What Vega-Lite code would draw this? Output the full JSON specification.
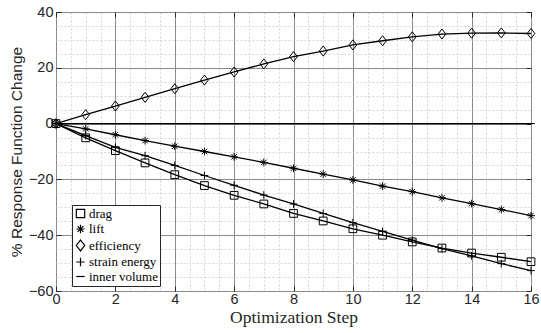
{
  "$schema": "https://vega.github.io/schema/vega-lite/v6.json",
  "width": 475,
  "height": 279,
  "autosize": "none",
  "padding": {"left": 56, "top": 12, "right": 10, "bottom": 42},
  "background": "white",
  "config": {
    "view": {"stroke": "#262626", "strokeWidth": 1},
    "axis": {"labelFont": "Liberation Sans", "labelFontSize": 14.5, "labelColor": "#262626", "titleColor": "#262626", "domain": false}
  },
  "data": {"values": [
    {"step":0,"series":"drag","value":0},{"step":1,"series":"drag","value":-5.1},{"step":2,"series":"drag","value":-9.7},{"step":3,"series":"drag","value":-14.1},{"step":4,"series":"drag","value":-18.3},{"step":5,"series":"drag","value":-22.2},{"step":6,"series":"drag","value":-25.7},{"step":7,"series":"drag","value":-28.8},{"step":8,"series":"drag","value":-32.2},{"step":9,"series":"drag","value":-34.9},{"step":10,"series":"drag","value":-37.7},{"step":11,"series":"drag","value":-40.0},{"step":12,"series":"drag","value":-42.4},{"step":13,"series":"drag","value":-44.6},{"step":14,"series":"drag","value":-46.4},{"step":15,"series":"drag","value":-47.9},{"step":16,"series":"drag","value":-49.5},
    {"step":0,"series":"lift","value":0},{"step":1,"series":"lift","value":-1.9},{"step":2,"series":"lift","value":-4.0},{"step":3,"series":"lift","value":-6.1},{"step":4,"series":"lift","value":-8.1},{"step":5,"series":"lift","value":-10.0},{"step":6,"series":"lift","value":-11.9},{"step":7,"series":"lift","value":-13.9},{"step":8,"series":"lift","value":-16.0},{"step":9,"series":"lift","value":-18.1},{"step":10,"series":"lift","value":-20.2},{"step":11,"series":"lift","value":-22.4},{"step":12,"series":"lift","value":-24.4},{"step":13,"series":"lift","value":-26.6},{"step":14,"series":"lift","value":-28.7},{"step":15,"series":"lift","value":-30.8},{"step":16,"series":"lift","value":-33.0},
    {"step":0,"series":"efficiency","value":0},{"step":1,"series":"efficiency","value":3.2},{"step":2,"series":"efficiency","value":6.3},{"step":3,"series":"efficiency","value":9.4},{"step":4,"series":"efficiency","value":12.5},{"step":5,"series":"efficiency","value":15.6},{"step":6,"series":"efficiency","value":18.5},{"step":7,"series":"efficiency","value":21.4},{"step":8,"series":"efficiency","value":24.0},{"step":9,"series":"efficiency","value":26.0},{"step":10,"series":"efficiency","value":28.2},{"step":11,"series":"efficiency","value":29.7},{"step":12,"series":"efficiency","value":31.1},{"step":13,"series":"efficiency","value":32.1},{"step":14,"series":"efficiency","value":32.4},{"step":15,"series":"efficiency","value":32.5},{"step":16,"series":"efficiency","value":32.3},
    {"step":0,"series":"strain energy","value":0},{"step":1,"series":"strain energy","value":-4.3},{"step":2,"series":"strain energy","value":-8.5},{"step":3,"series":"strain energy","value":-11.5},{"step":4,"series":"strain energy","value":-15.0},{"step":5,"series":"strain energy","value":-18.6},{"step":6,"series":"strain energy","value":-22.1},{"step":7,"series":"strain energy","value":-25.6},{"step":8,"series":"strain energy","value":-28.8},{"step":9,"series":"strain energy","value":-32.2},{"step":10,"series":"strain energy","value":-35.5},{"step":11,"series":"strain energy","value":-38.6},{"step":12,"series":"strain energy","value":-41.8},{"step":13,"series":"strain energy","value":-44.8},{"step":14,"series":"strain energy","value":-47.4},{"step":15,"series":"strain energy","value":-50.2},{"step":16,"series":"strain energy","value":-52.7},
    {"step":0,"series":"inner volume","value":0},{"step":1,"series":"inner volume","value":0},{"step":2,"series":"inner volume","value":0},{"step":3,"series":"inner volume","value":0},{"step":4,"series":"inner volume","value":0},{"step":5,"series":"inner volume","value":0},{"step":6,"series":"inner volume","value":0},{"step":7,"series":"inner volume","value":0},{"step":8,"series":"inner volume","value":0},{"step":9,"series":"inner volume","value":0},{"step":10,"series":"inner volume","value":0},{"step":11,"series":"inner volume","value":0},{"step":12,"series":"inner volume","value":0},{"step":13,"series":"inner volume","value":0},{"step":14,"series":"inner volume","value":0},{"step":15,"series":"inner volume","value":0},{"step":16,"series":"inner volume","value":0}
  ]},
  "layer": [
    {
      "mark": {"type": "line", "color": "black", "strokeWidth": 1.3},
      "encoding": {
        "x": {"field": "step", "type": "quantitative", "scale": {"domain": [0, 16], "nice": false},
          "axis": {"orient": "top", "values": [0,2,4,6,8,10,12,14,16], "labels": false, "grid": false, "ticks": true, "tickSize": -5, "tickColor": "#262626", "title": null}},
        "y": {"field": "value", "type": "quantitative", "scale": {"domain": [-60, 40], "nice": false},
          "axis": {"orient": "right", "values": [-60,-40,-20,0,20,40], "labels": false, "grid": false, "ticks": true, "tickSize": -5, "tickColor": "#262626", "title": null}},
        "detail": {"field": "series"}
      }
    },
    {
      "mark": {"type": "point", "filled": false, "stroke": "black", "strokeWidth": 1, "size": 60, "opacity": 1},
      "encoding": {
        "x": {"field": "step", "type": "quantitative", "scale": {"domain": [0, 16], "nice": false},
          "axis": {"orient": "bottom",
            "values": [0,0.5,1,1.5,2,2.5,3,3.5,4,4.5,5,5.5,6,6.5,7,7.5,8,8.5,9,9.5,10,10.5,11,11.5,12,12.5,13,13.5,14,14.5,15,15.5,16],
            "labelExpr": "datum.value % 2 === 0 ? format(datum.value, 'd') : ''",
            "labelOverlap": false, "labelPadding": 6, "labelFlush": false,
            "grid": true,
            "gridColor": {"condition": {"test": "datum.value % 2 === 0", "value": "#8a8a8a"}, "value": "#d6d6d6"},
            "gridDash": {"condition": {"test": "datum.value % 2 === 0", "value": []}, "value": [2, 2]},
            "gridWidth": 1,
            "ticks": true, "tickSize": -5, "tickColor": "#262626",
            "tickOpacity": {"condition": {"test": "datum.value % 2 === 0", "value": 1}, "value": 0},
            "title": "Optimization Step", "titleFont": "Liberation Serif", "titleFontSize": 17.5, "titleFontWeight": "normal", "titlePadding": 3}},
        "y": {"field": "value", "type": "quantitative", "scale": {"domain": [-60, 40], "nice": false},
          "axis": {"orient": "left",
            "values": [-60,-55,-50,-45,-40,-35,-30,-25,-20,-15,-10,-5,0,5,10,15,20,25,30,35,40],
            "labelExpr": "datum.value % 20 === 0 ? format(datum.value, 'd') : ''",
            "labelOverlap": false, "labelPadding": 8, "labelFlush": false,
            "grid": true,
            "gridColor": {"condition": {"test": "datum.value % 20 === 0", "value": "#8a8a8a"}, "value": "#d6d6d6"},
            "gridDash": {"condition": {"test": "datum.value % 20 === 0", "value": []}, "value": [2, 2]},
            "gridWidth": 1,
            "ticks": true, "tickSize": -5, "tickColor": "#262626",
            "tickOpacity": {"condition": {"test": "datum.value % 20 === 0", "value": 1}, "value": 0},
            "title": "% Response Function Change", "titleFont": "Liberation Sans", "titleFontSize": 15.5, "titleFontWeight": "normal", "titlePadding": 4}},
        "shape": {"field": "series", "type": "nominal",
          "scale": {"domain": ["drag", "lift", "efficiency", "strain energy", "inner volume"],
            "range": ["square", "M-1,0H1M0,-1V1M-0.7,-0.7L0.7,0.7M-0.7,0.7L0.7,-0.7", "M0,-1.3L1,0L0,1.3L-1,0Z", "M-1,0H1M0,-1V1", "stroke"]},
          "legend": {"title": null, "orient": "none", "legendX": 16, "legendY": 193,
            "labelFont": "Liberation Serif", "labelFontSize": 13, "labelColor": "black", "labelOffset": 2,
            "symbolStrokeColor": "black", "symbolFillColor": "transparent", "symbolStrokeWidth": 1.2, "symbolSize": 70,
            "rowPadding": 0.5, "padding": 2, "strokeColor": "#262626", "fillColor": "white", "cornerRadius": 0}}
      }
    }
  ],
  "resolve": {"axis": {"x": "independent", "y": "independent"}}
}
